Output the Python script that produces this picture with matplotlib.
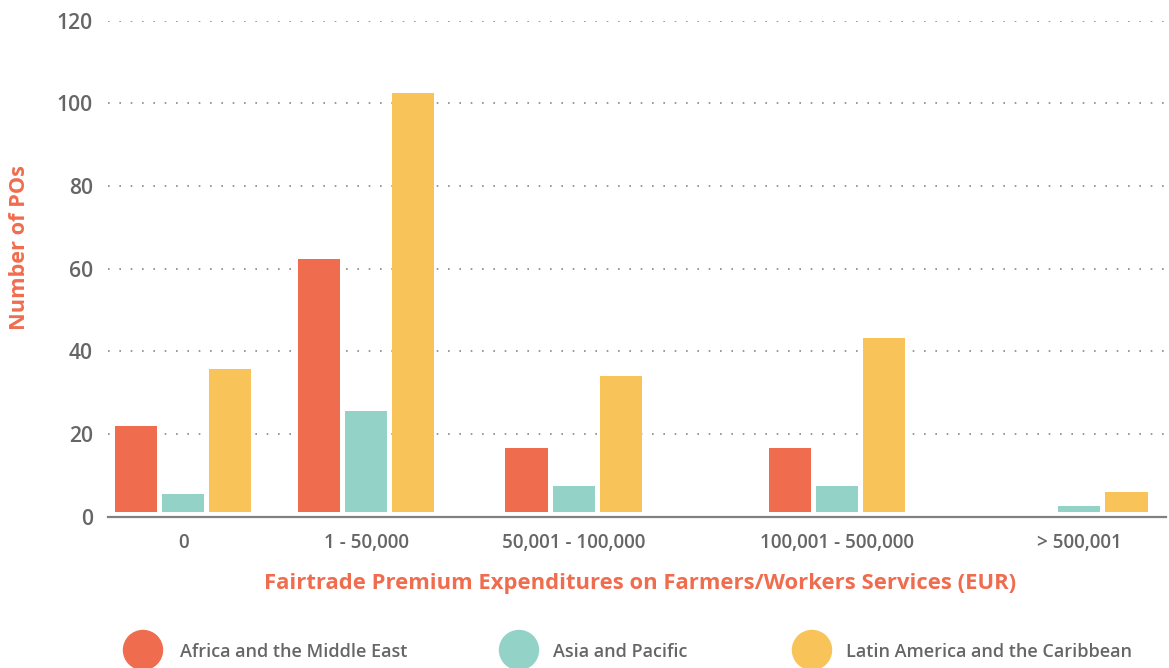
import matplotlib
matplotlib.use("Agg")
import matplotlib.pyplot as plt
from matplotlib.patches import Circle
import numpy as np

categories = ["0", "1 - 50,000", "50,001 - 100,000", "100,001 - 500,000", "> 500,001"]
africa = [22.0, 62.3, 16.6, 16.6, 0.0]
asia = [5.5, 25.6, 7.4, 7.4, 2.6]
latin = [35.7, 102.6, 34.0, 43.2, 6.0]
series_names = ["Africa and the Middle East", "Asia and Pacific", "Latin America and the Caribbean"]
y_ticks = [0, 20, 40, 60, 80, 100, 120]

colors = ["#F06C4E", "#93D2C7", "#F8C358"]
text_gray = "#666666"
accent = "#F06C4E"

# layout: group centres are unevenly spaced in the original
group_x = np.array([0.0, 3.89, 8.30, 13.9, 19.06])
bar_w = 0.894
base = 1.2  # bars float slightly above the axis line

plt.rcParams["font.family"] = ["Open Sans", "DejaVu Sans"]

W, H = 1169, 668
fig = plt.figure(figsize=(W / 100, H / 100), dpi=100)
ax = fig.add_axes([108 / W, 1 - 516.8 / H, 1058 / W, (516.8 - 20.7) / H])

for i, vals in enumerate([africa, asia, latin]):
    vals = np.array(vals)
    x = group_x + (i - 1)
    mask = vals > 0
    ax.bar(x[mask], vals[mask] - base, bottom=base, width=bar_w,
           color=colors[i], zorder=3)

ax.set_xlim(-1.6, 20.9)
ax.set_ylim(0, 120)
ax.set_yticks(y_ticks)
ax.set_yticklabels([str(t) for t in y_ticks], fontsize=15.2, color=text_gray,
                   fontweight="semibold")
ax.set_xticks(group_x)
ax.set_xticklabels(categories, fontsize=13.6, color=text_gray, fontweight="semibold")
ax.tick_params(axis="both", length=0)
ax.tick_params(axis="y", pad=11)
ax.tick_params(axis="x", pad=12)

for t in y_ticks[1:]:
    ax.axhline(t, color="#888888", lw=1.2, linestyle=(0, (1, 5.8)), zorder=1)

for s in ["top", "right", "left"]:
    ax.spines[s].set_visible(False)
ax.spines["bottom"].set_color("#808080")
ax.spines["bottom"].set_linewidth(1.6)

fig.text(640 / W, 1 - 584 / H,
         "Fairtrade Premium Expenditures on Farmers/Workers Services (EUR)",
         ha="center", va="center", fontsize=15.8, fontweight="bold", color=accent)
fig.text(20 / W, 1 - 248 / H, "Number of POs", rotation=90, ha="center",
         va="center", fontsize=15.7, fontweight="bold", color=accent)

# legend drawn by hand in pixel space
lax = fig.add_axes([0, 0, 1, 1])
lax.set_xlim(0, W)
lax.set_ylim(H, 0)
lax.axis("off")
circle_x = [143, 519, 812]
text_x = [180, 553, 846]
for cx, tx, name, c in zip(circle_x, text_x, series_names, colors):
    lax.add_patch(Circle((cx, 650), 19.5, color=c))
    lax.text(tx, 652, name, ha="left", va="center", fontsize=13,
             fontweight="semibold", color=text_gray)

fig.savefig("out.png", dpi=100)
